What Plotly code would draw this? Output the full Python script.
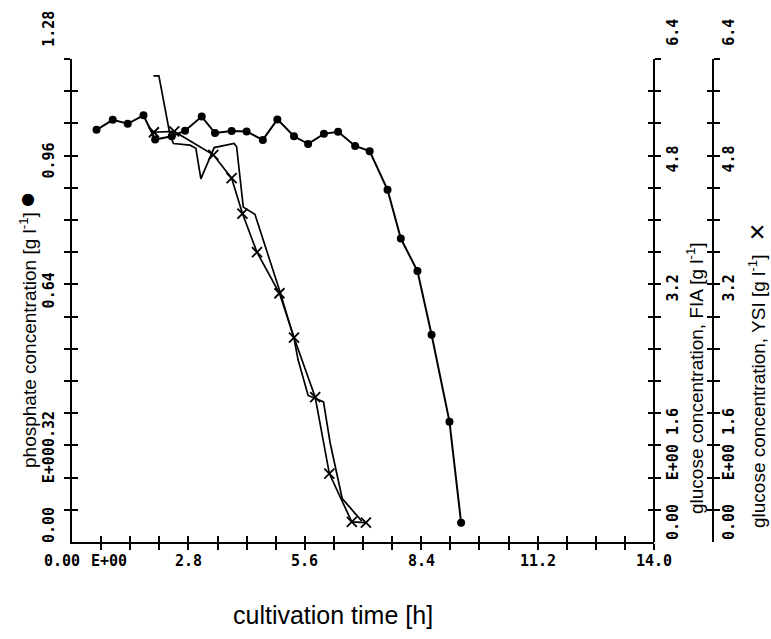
import plotly.graph_objects as go

# ---------------- data ----------------
# phosphate concentration [g/l] vs cultivation time [h]
phos_t = [0.59, 0.98, 1.34, 1.72, 2.00, 2.40, 2.72, 3.12, 3.44, 3.84, 4.20, 4.59, 4.94,
          5.34, 5.68, 6.06, 6.40, 6.81, 7.16, 7.59, 7.91, 8.31, 8.65, 9.08, 9.36]
phos_c = [1.024, 1.049, 1.039, 1.060, 1.000, 1.008, 1.022, 1.057, 1.016, 1.021, 1.020, 0.999, 1.050,
          1.008, 0.989, 1.014, 1.019, 0.984, 0.971, 0.875, 0.754, 0.673, 0.515, 0.299, 0.048]

# glucose, FIA (on-line, continuous line) [g/l]
fia_t = [1.96, 2.09, 2.36, 2.44, 2.84, 2.98, 3.10, 3.42, 3.90, 3.96, 4.12, 4.40,
         4.99, 5.34, 5.44, 5.68, 6.05, 6.21, 6.50, 6.97]
fia_c = [5.79, 5.79, 5.05, 4.95, 4.93, 4.89, 4.51, 4.90, 4.95, 4.91, 4.16, 4.07,
         3.13, 2.53, 2.26, 1.82, 1.74, 1.23, 0.54, 0.26]

# glucose, YSI (off-line, x markers) [g/l]
ysi_t = [1.97, 2.46, 3.40, 3.84, 4.10, 4.45, 4.99, 5.34, 5.85, 6.19, 6.73, 7.07]
ysi_c = [5.09, 5.10, 4.81, 4.52, 4.08, 3.60, 3.09, 2.54, 1.80, 0.85, 0.25, 0.24]

# axis ranges / ticks
x_range = [0, 14.0]
phos_range = [0, 1.20]
gluc_range = [0, 6.0]
x_ticks = [round(0.7 * i, 2) for i in range(1, 21)]
x_label_vals = [-0.24, 0.9, 2.8, 5.6, 8.4, 11.2, 14.0]
x_label_text = ["0.00", "E+00", "2.8", "5.6", "8.4", "11.2", "14.0"]
phos_ticks = [round(0.08 * i, 2) for i in range(1, 16)]
gluc_ticks = [round(0.4 * i, 2) for i in range(1, 16)]

left_lab_vals = [0.00, 0.32, 0.64, 0.96, 1.28]
left_lab_text = ["0.00", "E+000.32", "0.64", "0.96", "1.28"]
left_lab_shift = [17, -34, -6, -5, -2]
right_lab_vals = [0.0, 1.6, 3.2, 4.8, 6.4]
right_lab_text = ["0.00", "E+00 1.6", "3.2", "4.8", "6.4"]
right_lab_shift = [20, -31, -4, -4, -6]

# ---------------- figure ----------------
W, H = 771, 639
ML, MR, MT, MB = 72, 31, 59, 97
PW = W - ML - MR
PH = H - MT - MB
XEND = 582 / PW            # paper position of the FIA axis (end of x axis)
YSI_POS = (713 - ML) / PW  # paper position of YSI axis

BLACK = "black"
mono = dict(family="DejaVu Sans Mono", size=15, color=BLACK, weight="bold")
sans = dict(family="Liberation Sans, Arial", size=19, color=BLACK)

fig = go.Figure()

fig.add_trace(go.Scatter(x=phos_t, y=phos_c, mode="lines+markers",
                         line=dict(color=BLACK, width=2),
                         marker=dict(symbol="circle", size=8, color=BLACK),
                         xaxis="x", yaxis="y", showlegend=False))
fig.add_trace(go.Scatter(x=fia_t, y=fia_c, mode="lines",
                         line=dict(color=BLACK, width=1.7),
                         xaxis="x", yaxis="y2", showlegend=False))
fig.add_trace(go.Scatter(x=ysi_t, y=ysi_c, mode="lines+markers",
                         line=dict(color=BLACK, width=1.7),
                         marker=dict(symbol="x-thin", size=10, line=dict(color=BLACK, width=1.8)),
                         xaxis="x", yaxis="y3", showlegend=False))
# invisible copies so that the inner-tick overlay axes are drawn
for yy, (tx, ty) in zip(["y4", "y5", "y6"], [(phos_t, phos_c), (fia_t, fia_c), (ysi_t, ysi_c)]):
    fig.add_trace(go.Scatter(x=tx, y=ty, mode="none", xaxis="x2", yaxis=yy,
                             showlegend=False, hoverinfo="skip"))

ax_common = dict(showgrid=False, zeroline=False, tickcolor=BLACK, tickwidth=2, ticklen=6,
                 linecolor=BLACK, linewidth=2, fixedrange=True, showticklabels=False,
                 tickmode="array")

fig.update_layout(
    width=W, height=H, margin=dict(l=ML, r=MR, t=MT, b=MB),
    paper_bgcolor="white", plot_bgcolor="white",
    xaxis=dict(domain=[0, XEND], range=x_range, anchor="y", showline=True, ticks="outside",
               tickvals=x_ticks, **ax_common),
    xaxis2=dict(domain=[0, XEND], range=x_range, anchor="y", overlaying="x", showline=False,
                ticks="inside", tickvals=x_ticks, **ax_common),
    yaxis=dict(domain=[0, 1], range=phos_range, anchor="x", showline=True, ticks="outside",
               tickvals=phos_ticks, **ax_common),
    yaxis4=dict(domain=[0, 1], range=phos_range, anchor="x", overlaying="y", showline=False,
                ticks="inside", tickvals=phos_ticks, **ax_common),
    yaxis2=dict(range=gluc_range, anchor="free", position=XEND, overlaying="y", side="right",
                showline=True, ticks="outside", tickvals=gluc_ticks, **ax_common),
    yaxis5=dict(range=gluc_range, anchor="free", position=XEND, overlaying="y", side="right",
                showline=False, ticks="inside", tickvals=gluc_ticks, **ax_common),
    yaxis3=dict(range=gluc_range, anchor="free", position=YSI_POS, overlaying="y", side="right",
                showline=True, ticks="outside", tickvals=gluc_ticks, **ax_common),
    yaxis6=dict(range=gluc_range, anchor="free", position=YSI_POS, overlaying="y", side="right",
                showline=False, ticks="inside", tickvals=gluc_ticks, **ax_common),
)


def px_x(p):
    return (p - ML) / PW


def px_y(p):
    return (H - MB - p) / PH


def hx(h):
    return (h - x_range[0]) / (x_range[1] - x_range[0]) * XEND


ann = []
# x axis labels
for v, t in zip(x_label_vals, x_label_text):
    ann.append(dict(text=t, x=hx(v), xref="paper", y=0, yref="paper", yshift=-19, showarrow=False,
                    font=mono, xanchor="center", yanchor="middle"))
# left axis labels (rotated)
for v, t, s in zip(left_lab_vals, left_lab_text, left_lab_shift):
    ann.append(dict(text=t, x=px_x(49), xref="paper", y=v / phos_range[1], yref="paper", yshift=s,
                    textangle=-90, showarrow=False, font=mono, xanchor="center", yanchor="middle"))
# right axes labels (rotated)
for xpix in (673, 729):
    for v, t, s in zip(right_lab_vals, right_lab_text, right_lab_shift):
        ann.append(dict(text=t, x=px_x(xpix), xref="paper", y=v / gluc_range[1], yref="paper", yshift=s,
                        textangle=-90, showarrow=False, font=mono, xanchor="center", yanchor="middle"))

# axis titles
ann.append(dict(text="cultivation time [h]", x=px_x(333), xref="paper", y=px_y(615), yref="paper",
                showarrow=False, font=dict(family="Liberation Sans, Arial", size=25, color=BLACK),
                xanchor="center", yanchor="middle"))
ann.append(dict(text="phosphate concentration [g l<sup>-1</sup>]", x=px_x(28), xref="paper",
                y=px_y(340), yref="paper", textangle=-90, showarrow=False, font=sans,
                xanchor="center", yanchor="middle"))
ann.append(dict(text="●", x=px_x(28), xref="paper", y=px_y(198), yref="paper", showarrow=False,
                font=dict(family="DejaVu Sans", size=16, color=BLACK), xanchor="center", yanchor="middle"))
ann.append(dict(text="glucose concentration, FIA [g l<sup>-1</sup>]", x=px_x(695), xref="paper",
                y=px_y(378), yref="paper", textangle=-90, showarrow=False, font=sans,
                xanchor="center", yanchor="middle"))
ann.append(dict(text="glucose concentration, YSI [g l<sup>-1</sup>]", x=px_x(757), xref="paper",
                y=px_y(392), yref="paper", textangle=-90, showarrow=False, font=sans,
                xanchor="center", yanchor="middle"))
ann.append(dict(text="✕", x=px_x(757), xref="paper", y=px_y(232), yref="paper", showarrow=False,
                font=dict(family="DejaVu Sans", size=22, color=BLACK), xanchor="center", yanchor="middle"))

fig.update_layout(annotations=ann)
fig.write_html("out.html")
